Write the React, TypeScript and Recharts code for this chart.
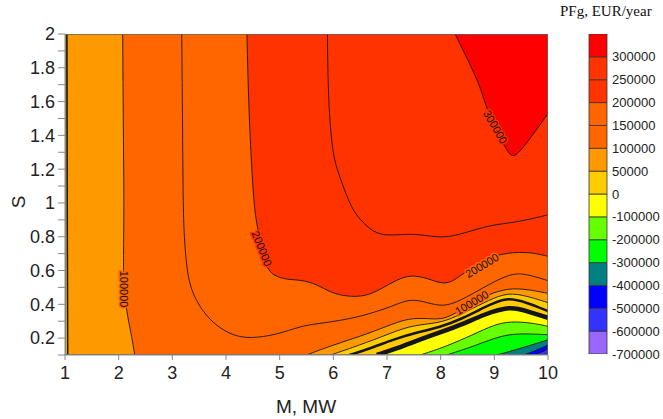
import React from "react";
import { Area, Bar, BarChart, ComposedChart, Line, Scatter, XAxis, YAxis } from "recharts";

type Pt = [number, number];

const mTicks = [1, 2, 3, 4, 5, 6, 7, 8, 9, 10];
const sTicks = [0.1, 0.2, 0.3, 0.4, 0.5, 0.6, 0.7, 0.8, 0.9, 1, 1.1, 1.2, 1.3, 1.4, 1.5, 1.6, 1.7, 1.8, 1.9, 2];

// contour lines, as [M, S]
const c300: Pt[] = [[8.27, 2], [8.5, 1.85], [8.74, 1.69], [8.86, 1.55], [9.05, 1.42], [9.2, 1.33], [9.3, 1.28], [9.39, 1.275], [9.6, 1.35], [10, 1.53]];
const c250: Pt[] = [[5.89, 2], [5.9, 1.7], [5.94, 1.45], [6.0, 1.28], [6.07, 1.2], [6.18, 1.1], [6.3, 1.0], [6.44, 0.92], [6.69, 0.84], [6.93, 0.805], [7.3, 0.815], [7.6, 0.815], [8.05, 0.79], [8.43, 0.82], [8.92, 0.87], [9.42, 0.885], [10, 0.93]];
const c200: Pt[] = [[4.39, 2], [4.42, 1.6], [4.47, 1.25], [4.52, 1.0], [4.56, 0.9], [4.62, 0.8], [4.7, 0.68], [4.78, 0.6], [4.95, 0.56], [5.19, 0.545], [5.38, 0.545], [5.69, 0.52], [5.94, 0.47], [6.25, 0.445], [6.6, 0.447], [6.87, 0.487], [7.18, 0.546], [7.45, 0.575], [7.75, 0.555], [8.05, 0.517], [8.25, 0.54], [8.43, 0.586], [8.8, 0.66], [9.11, 0.7], [9.6, 0.714], [10, 0.684]];
const c150: Pt[] = [[3.175, 2], [3.19, 1.5], [3.2, 1.0], [3.22, 0.8], [3.27, 0.6], [3.36, 0.47], [3.58, 0.35], [3.83, 0.27], [4.13, 0.215], [4.45, 0.197], [4.95, 0.22], [5.38, 0.27], [5.69, 0.285], [5.94, 0.295], [6.5, 0.325], [7.12, 0.39], [7.43, 0.435], [7.75, 0.41], [8.05, 0.385], [8.36, 0.42], [8.8, 0.5], [9.3, 0.585], [9.6, 0.58], [10, 0.54]];
const c100Left: Pt[] = [[2.075, 2], [2.085, 1.5], [2.1, 1.0], [2.09, 0.7], [2.09, 0.6], [2.1, 0.5], [2.15, 0.35], [2.22, 0.25], [2.3, 0.1]];
const c100: Pt[] = [[5.5, 0.1], [6.0, 0.16], [6.5, 0.21], [7.0, 0.27], [7.4, 0.32], [7.8, 0.315], [8.05, 0.31], [8.35, 0.36], [8.6, 0.41], [8.9, 0.46], [9.25, 0.495], [9.6, 0.49], [10, 0.465]];
const c50Left: Pt[] = [[1.035, 2], [1.04, 1], [1.05, 0.1]];
const c50: Pt[] = [[5.95, 0.1], [6.5, 0.16], [7.0, 0.22], [7.4, 0.27], [7.8, 0.285], [8.1, 0.3], [8.5, 0.36], [8.9, 0.425], [9.25, 0.47], [9.6, 0.45], [10, 0.41]];
const c0a: Pt[] = [[6.3, 0.1], [6.7, 0.14], [7.1, 0.19], [7.5, 0.23], [8.0, 0.265], [8.4, 0.315], [8.8, 0.38], [9.23, 0.445], [9.6, 0.41], [10, 0.36]];
const c0: Pt[] = [[6.81, 0.1], [7.2, 0.14], [7.6, 0.19], [8.0, 0.235], [8.4, 0.28], [8.8, 0.34], [9.3, 0.39], [9.6, 0.36], [10, 0.32]];
const cm100: Pt[] = [[7.62, 0.1], [8.1, 0.15], [8.6, 0.22], [9.0, 0.28], [9.3, 0.3], [9.7, 0.29], [10, 0.27]];
const cm200: Pt[] = [[8.11, 0.1], [8.6, 0.15], [9.0, 0.2], [9.36, 0.23], [10, 0.22]];
const cm300: Pt[] = [[9.05, 0.1], [9.5, 0.14], [10, 0.19]];
const cm400: Pt[] = [[9.55, 0.1], [9.8, 0.13], [10, 0.16]];
const cm500: Pt[] = [[9.75, 0.1], [10, 0.135]];
const cm600: Pt[] = [[9.92, 0.1], [10, 0.11]];

const contourLabels = [
  { x: 2.1, y: 0.49, text: "100000", angle: 90, bg: "#ff6600" },
  { x: 4.67, y: 0.73, text: "200000", angle: 68, bg: "#ff3300" },
  { x: 9.02, y: 1.45, text: "300000", angle: 60, bg: "#ff3300" },
  { x: 8.77, y: 0.63, text: "200000", angle: -31, bg: "#ff6600" },
  { x: 8.58, y: 0.41, text: "100000", angle: -31, bg: "#ff6600" },
];

// colour bar, bottom to top
const levelLabels = ["-700000", "-600000", "-500000", "-400000", "-300000", "-200000", "-100000", "0", "50000", "100000", "150000", "200000", "250000", "300000"];
const bandColors = ["#9966ff", "#3333ff", "#0000ff", "#008080", "#00ff00", "#66ff00", "#ffff00", "#ffcc00", "#ff9900", "#ff6600", "#ff6600", "#ff3300", "#ff3300", "#ff0000"];

const tri = (p: Pt): Pt[] => [p, p, p];
const inner = (c: Pt[]) => c.slice(1, -1);
const ends = (c: Pt[]) => [...tri(c[0]), ...inner(c), ...tri(c[c.length - 1])];
const toRows = (pts: Pt[]) => pts.map(([x, y]) => ({ x, y }));

const fromCorner = (c: Pt[]) => toRows([...tri([1, 2]), ...tri([1, 0.1]), ...ends(c), ...tri([10, 2])]);
const fromLeft = (left: Pt[], bottom: Pt[]) => toRows([...ends(left), ...ends(bottom), ...tri([10, 2])]);
const fromTop = (c: Pt[]) => toRows([...ends(c), ...tri([10, 2])]);

const regions = [
  { key: "base", data: toRows([...tri([1, 2]), ...tri([1, 0.1]), ...tri([10, 0.1]), ...tri([10, 2])]), fill: bandColors[0] },
  { key: "m600", data: fromCorner(cm600), fill: bandColors[1] },
  { key: "m500", data: fromCorner(cm500), fill: bandColors[2] },
  { key: "m400", data: fromCorner(cm400), fill: bandColors[3] },
  { key: "m300", data: fromCorner(cm300), fill: bandColors[4] },
  { key: "m200", data: fromCorner(cm200), fill: bandColors[5] },
  { key: "m100", data: fromCorner(cm100), fill: bandColors[6] },
  { key: "z0", data: fromCorner(c0), fill: bandColors[7] },
  { key: "p50", data: fromLeft(c50Left, c50), fill: bandColors[8] },
  { key: "p100", data: fromLeft(c100Left, c100), fill: bandColors[9] },
  { key: "p150", data: fromTop(c150), fill: bandColors[10] },
  { key: "p200", data: fromTop(c200), fill: bandColors[11] },
  { key: "p250", data: fromTop(c250), fill: bandColors[12] },
  { key: "p300", data: fromTop(c300), fill: bandColors[13] },
];

const lines = [
  { key: "l300", pts: c300, w: 0.9 },
  { key: "l250", pts: c250, w: 0.9 },
  { key: "l200", pts: c200, w: 0.9 },
  { key: "l150", pts: c150, w: 0.9 },
  { key: "l100a", pts: c100Left, w: 0.9 },
  { key: "l100", pts: c100, w: 0.9 },
  { key: "l50a", pts: c50Left, w: 1.6 },
  { key: "l50", pts: c50, w: 0.9 },
  { key: "l0a", pts: c0a, w: 2.5 },
  { key: "l0", pts: c0, w: 4.5 },
  { key: "lm100", pts: cm100, w: 0.9 },
  { key: "lm200", pts: cm200, w: 0.9 },
  { key: "lm300", pts: cm300, w: 0.9 },
  { key: "lm400", pts: cm400, w: 0.9 },
  { key: "lm500", pts: cm500, w: 0.9 },
  { key: "lm600", pts: cm600, w: 0.9 },
];

const frame = toRows([[1, 0.1], [1, 2], [10, 2], [10, 0.1], [1, 0.1]]);

const barRow = [{ name: "bar", ...Object.fromEntries(bandColors.map((_, i) => [`b${i}`, 1])) }];

const FONT = "'Liberation Sans', Arial, sans-serif";

function ContourLabel(props: any) {
  const { cx, cy, payload } = props;
  if (cx == null || cy == null) return null;
  return (
    <text
      x={cx}
      y={cy}
      transform={`rotate(${payload.angle} ${cx} ${cy})`}
      textAnchor="middle"
      dominantBaseline="central"
      fontSize={11}
      fontFamily={FONT}
      fill="#111"
      stroke={payload.bg}
      strokeWidth={3}
      paintOrder="stroke"
    >
      {payload.text}
    </text>
  );
}

export default function App() {
  return (
    <div style={{ position: "absolute", left: 0, top: 0, width: 663, height: 419, background: "#fff", fontFamily: FONT }}>
      <ComposedChart width={663} height={419} margin={{ top: 34, right: 115, left: 20, bottom: 0 }}>
        <XAxis
          dataKey="x"
          type="number"
          domain={[1, 10]}
          allowDataOverflow
          ticks={mTicks}
          interval={0}
          height={64}
          tickSize={5}
          tickMargin={6}
          stroke="#888"
          tick={{ fontSize: 18, fill: "#222", fontFamily: FONT }}
        />
        <YAxis
          dataKey="y"
          type="number"
          domain={[0.1, 2]}
          allowDataOverflow
          ticks={sTicks}
          interval={0}
          width={45}
          tickSize={7}
          tickMargin={3}
          stroke="#888"
          tickFormatter={(v: number) => (Math.round(v * 10) % 2 === 0 ? String(v) : "")}
          tick={{ fontSize: 18, fill: "#222", fontFamily: FONT }}
        />
        {regions.map((r) => (
          <Area
            key={r.key}
            data={r.data}
            dataKey="y"
            type="basis"
            baseValue={2}
            fill={r.fill}
            fillOpacity={1}
            stroke="none"
            dot={false}
            activeDot={false}
            isAnimationActive={false}
          />
        ))}
        {lines.map((l) => (
          <Line
            key={l.key}
            data={toRows(l.pts)}
            dataKey="y"
            type="basis"
            stroke="#151515"
            strokeWidth={l.w}
            dot={false}
            activeDot={false}
            isAnimationActive={false}
          />
        ))}
        <Line data={frame} dataKey="y" type="linear" stroke="#666" strokeWidth={1.4} dot={false} activeDot={false} isAnimationActive={false} />
        <Scatter data={contourLabels} dataKey="y" shape={ContourLabel} isAnimationActive={false} />
      </ComposedChart>

      <div style={{ position: "absolute", left: 588, top: 0 }}>
        <BarChart width={75} height={419} data={barRow} margin={{ top: 34, right: 0, left: 0, bottom: 65 }} barCategoryGap={0} barGap={0}>
          <XAxis dataKey="name" type="category" hide />
          <YAxis
            orientation="right"
            type="number"
            domain={[0, 14]}
            allowDataOverflow
            ticks={levelLabels.map((_, i) => i)}
            interval={0}
            width={55}
            tickLine={false}
            axisLine={false}
            tickSize={0}
            tickMargin={4}
            tickFormatter={(v: number) => levelLabels[v] ?? ""}
            tick={{ fontSize: 13, fill: "#222", fontFamily: FONT, textAnchor: "start" }}
          />
          {bandColors.map((c, i) => (
            <Bar key={i} dataKey={`b${i}`} stackId="cb" barSize={20} fill={c} stroke="#333" strokeWidth={0.8} isAnimationActive={false} />
          ))}
        </BarChart>
      </div>

      <div style={{ position: "absolute", left: 560, top: 4, fontFamily: "'Liberation Serif', 'Times New Roman', serif", fontSize: 15, lineHeight: "15px", color: "#111", whiteSpace: "nowrap" }}>
        PFg, EUR/year
      </div>
      <div style={{ position: "absolute", left: 306, top: 397, transform: "translateX(-50%)", fontSize: 19, lineHeight: "19px", color: "#222", whiteSpace: "nowrap" }}>
        M, MW
      </div>
      <div style={{ position: "absolute", left: 18, top: 202, transform: "translate(-50%, -50%) rotate(-90deg)", fontSize: 19, lineHeight: "19px", color: "#222" }}>
        S
      </div>
    </div>
  );
}
